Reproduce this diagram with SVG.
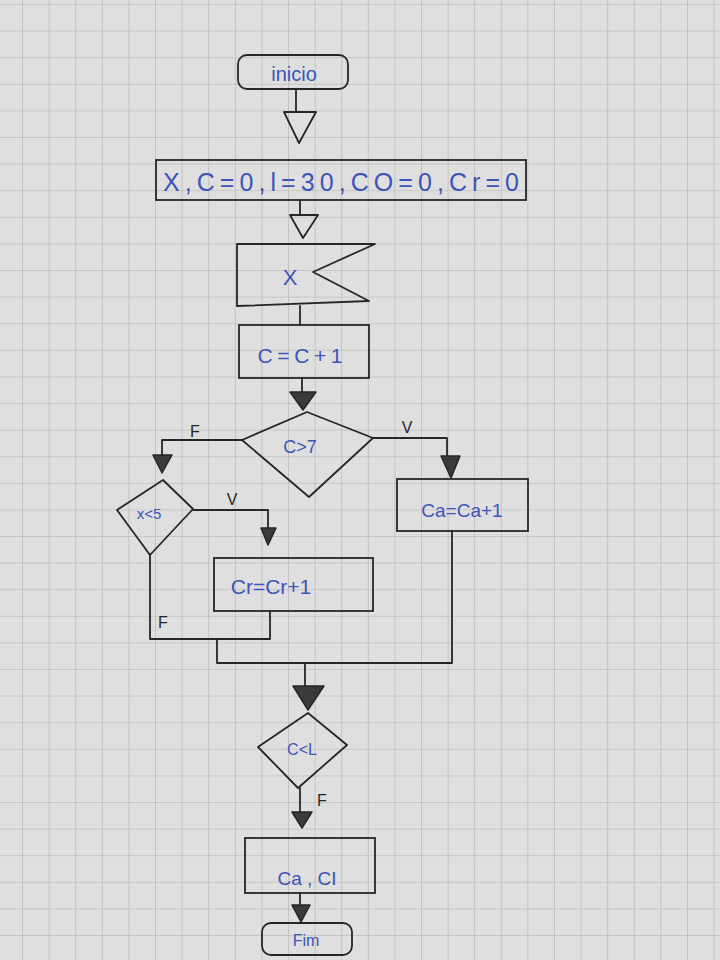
<svg xmlns="http://www.w3.org/2000/svg" width="720" height="960" viewBox="0 0 720 960">
<defs>
<pattern id="grid" x="22" y="4" width="26.6" height="26.6" patternUnits="userSpaceOnUse">
<path d="M0 0H26.6M0 0V26.6" fill="none" stroke="#b0b0b0" stroke-width="1.2"/>
</pattern>
</defs>
<style>
.s{fill:none;stroke:#262626;stroke-width:1.8;stroke-linejoin:round;stroke-linecap:round}
.b{fill:none;stroke:#262626;stroke-width:1.8}
.oh{fill:none;stroke:#262626;stroke-width:1.8;stroke-linejoin:round}
.fh{fill:#3a3a3a;stroke:#262626;stroke-width:1.5;stroke-linejoin:round}
.t{font-family:"Liberation Sans",Arial,sans-serif;fill:#3b55b8;text-anchor:middle;dominant-baseline:central}
.l{font-family:"Liberation Sans",Arial,sans-serif;fill:#262626;text-anchor:middle;dominant-baseline:central;font-size:16px}
</style>
<rect width="720" height="960" fill="#dfdfdf"/>
<rect width="720" height="960" fill="url(#grid)"/>

<g id="connectors">
<path class="s" d="M296 89V112"/>
<polygon class="oh" points="284,112 316,112 299,143"/>
<path class="s" d="M300 200V215"/>
<polygon class="oh" points="290,215 318,215 303,238"/>
<path class="s" d="M300 306V325"/>
<path class="s" d="M302 378V392"/>
<polygon class="fh" points="290,392 316,392 303,410"/>
<path class="s" d="M242 440H162V455"/>
<polygon class="fh" points="153,455 172,455 162,473"/>
<path class="s" d="M373 438H447V456"/>
<polygon class="fh" points="441,456 460,456 451,478"/>
<path class="s" d="M193 510H268V528"/>
<polygon class="fh" points="261,528 276,528 268,545"/>
<path class="s" d="M150 554V639H270V611"/>
<path class="s" d="M217 639V663H452V531"/>
<path class="s" d="M305 663V686"/>
<polygon class="fh" points="293,686 324,686 308,710"/>
<path class="s" d="M300 788V812"/>
<polygon class="fh" points="292,812 312,812 302,828"/>
<path class="s" d="M300 893V905"/>
<polygon class="fh" points="292,905 310,905 301,922"/>
<text class="l" x="195" y="431">F</text>
<text class="l" x="407" y="427">V</text>
<text class="l" x="232" y="499">V</text>
<text class="l" x="163" y="622">F</text>
<text class="l" x="322" y="800">F</text>
</g>

<g id="inicio">
<rect class="b" x="238" y="55" width="110" height="34" rx="9"/>
<text class="t" x="294" y="74" font-size="20">inicio</text>
</g>

<g id="init">
<rect class="b" x="156" y="160" width="370" height="40" stroke-width="2.4"/>
<text class="t" x="341" y="182" font-size="25" textLength="356" lengthAdjust="spacing">X,C=0,l=30,CO=0,Cr=0</text>
</g>

<g id="read">
<path class="s" d="M237 244H375L313 272L369 301L237 306Z"/>
<text class="t" x="290" y="277" font-size="22">X</text>
</g>

<g id="inc">
<rect class="b" x="239" y="325" width="130" height="53"/>
<text class="t" x="300" y="355" font-size="21" textLength="85" lengthAdjust="spacing">C=C+1</text>
</g>

<g id="dec1">
<path class="s" d="M307 412L373 438L309 497L242 440Z"/>
<text class="t" x="300" y="447" font-size="18">C&gt;7</text>
</g>

<g id="ca">
<rect class="b" x="397" y="479" width="131" height="52"/>
<text class="t" x="462" y="510" font-size="19">Ca=Ca+1</text>
</g>

<g id="dec2">
<path class="s" d="M163 480L193 509L150 555L117 510Z"/>
<text class="t" x="149" y="513" font-size="15">x&lt;5</text>
</g>

<g id="cr">
<rect class="b" x="214" y="558" width="159" height="53"/>
<text class="t" x="271" y="586" font-size="21">Cr=Cr+1</text>
</g>

<g id="dec3">
<path class="s" d="M308 713L347 745L298 788L258 747Z"/>
<text class="t" x="302" y="749" font-size="16">C&lt;L</text>
</g>

<g id="out">
<rect class="b" x="245" y="838" width="130" height="55"/>
<text class="t" x="307" y="878" font-size="19">Ca , CI</text>
</g>

<g id="fim">
<rect class="b" x="262" y="923" width="90" height="32" rx="9"/>
<text class="t" x="306" y="940" font-size="16">Fim</text>
</g>
</svg>
